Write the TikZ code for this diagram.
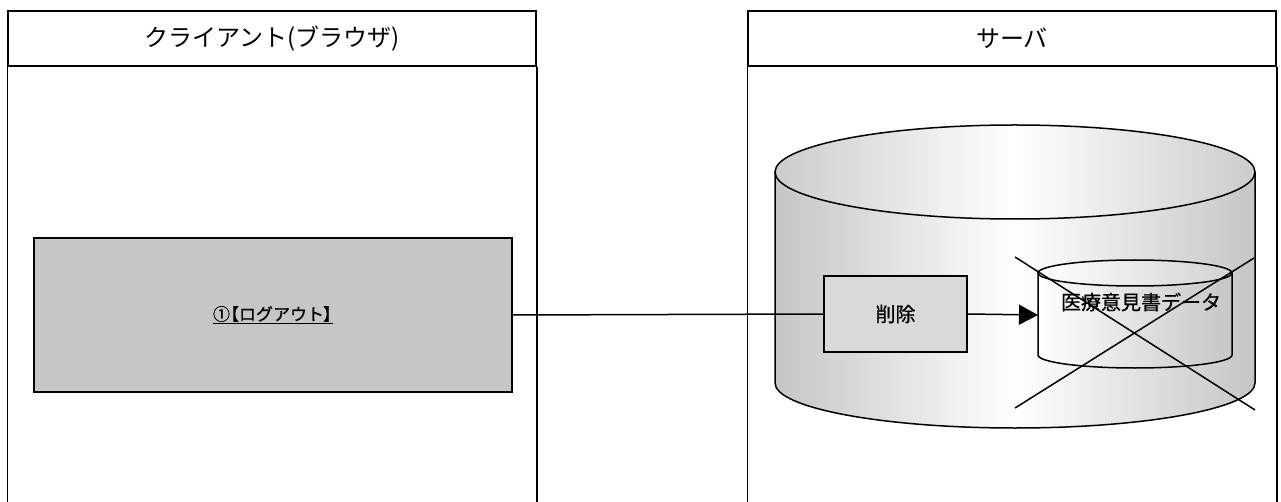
\documentclass[tikz,border=0pt]{standalone}
\usepackage{fontspec}
\newfontfamily\jp{Noto Sans CJK JP}
\newfontfamily\jpm[FakeBold=0.8]{Noto Sans CJK JP}
\usetikzlibrary{arrows.meta}
\tikzset{
  lanehead/.style={draw, minimum width=528pt, minimum height=55pt, inner sep=0pt, font=\jp\fontsize{24}{28}\selectfont},
  greybox/.style={draw, fill=gray!45, inner sep=0pt},
  jptext/.style={font=\jpm\fontsize{20}{24}\selectfont},
}

\begin{document}
\begin{tikzpicture}[x=1pt,y=1pt,line width=1.5pt]
\useasboundingbox (0,0) rectangle (1281,-502);
\foreach \lx/\lname/\ltext in {272/client/{クライアント(ブラウザ)},1012/server/{サーバ}}
{
    \node[lanehead] (\lname) at (\lx,-38.5) {\ltext};
    \draw (\lname.south west) -- ++(0,-436);
    \draw (\lname.south east) -- ++(0,-436);
}

\shade[left color=gray!45, right color=gray!45, middle color=white] (775,-172) -- (775,-383) arc[start angle=180, end angle=360, x radius=240, y radius=45] -- (1255,-172) -- cycle;
\draw (775,-172) -- (775,-383) arc[start angle=180, end angle=360, x radius=240, y radius=45] -- (1255,-172);
\shade[draw, left color=gray!40, right color=gray!40, middle color=white] (1015,-172) ellipse[x radius=240, y radius=47];

\shade[left color=white, right color=gray!45] (1038,-273) -- (1038,-355) arc[start angle=180, end angle=360, x radius=97, y radius=13] -- (1232,-273) -- cycle;
\draw (1038,-273) -- (1038,-355) arc[start angle=180, end angle=360, x radius=97, y radius=13] -- (1232,-273);
\shade[draw, left color=white, right color=gray!35] (1135,-273) ellipse[x radius=97, y radius=13];
\node[jptext] (data) at (1141,-302) {医療意見書データ};
\coordinate (dataleft) at (1038,-315);

\node[greybox, fill=gray!30, minimum width=143pt, minimum height=76pt, jptext] (delete) at (895.5,-314) {削除};
\node[greybox, minimum width=478pt, minimum height=154pt, font=\jpm\fontsize{17}{20}\selectfont] (logout) at (273,-315) {\underline{①\kern-8pt【ログアウト\kern-1pt】\kern-7pt}};

\draw (logout.east) -- (delete.west);
\draw[-{Triangle[length=19pt,width=20pt]}] (delete.east) -- (dataleft);

\draw (1015,-257) -- (1255,-410);
\draw (1015,-408) -- (1254,-258);
\end{tikzpicture}
\end{document}
